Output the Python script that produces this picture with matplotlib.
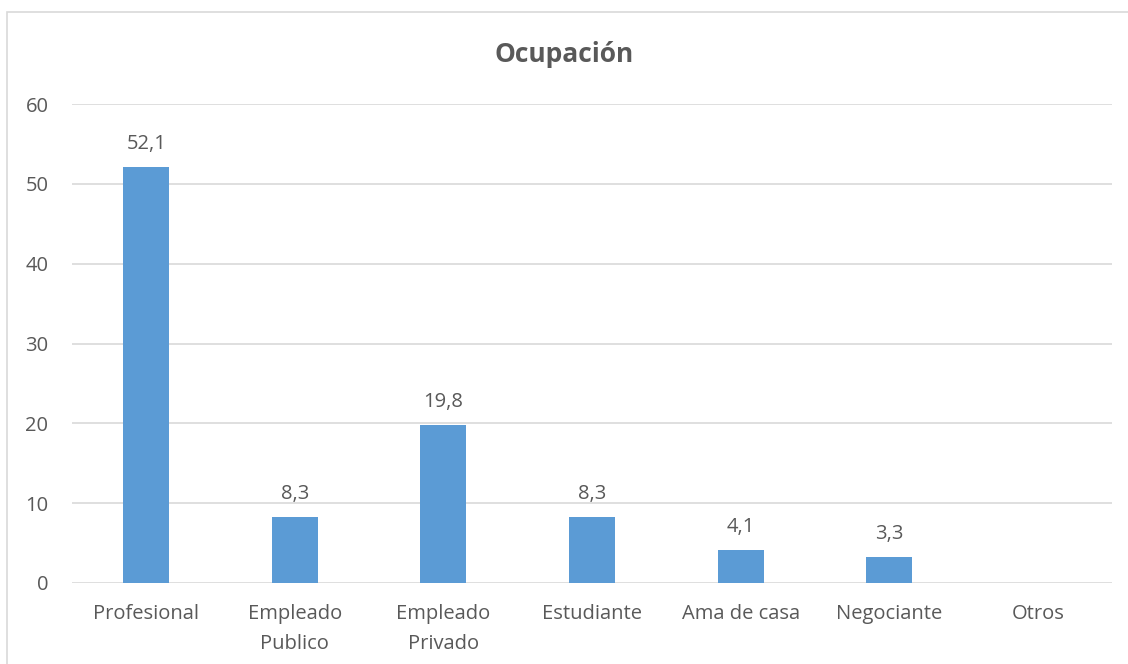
import matplotlib.pyplot as plt
from matplotlib.patches import Rectangle
import numpy as np

categories = ['Profesional', 'Empleado\nPublico', 'Empleado\nPrivado',
              'Estudiante', 'Ama de casa', 'Negociante', 'Otros']
values = [52.1, 8.3, 19.8, 8.3, 4.1, 3.3, 0]
y_ticks = [0, 10, 20, 30, 40, 50, 60]

BAR = '#5B9BD5'
TEXT = '#595959'
GRID = '#D9D9D9'

plt.rcParams['font.family'] = ['Open Sans', 'DejaVu Sans']

W, H = 1128, 664
fig = plt.figure(figsize=(W / 100, H / 100), dpi=100)

# chart frame
fig.patches.append(Rectangle((7 / W, -0.1), 1.2, 1 - 12 / H + 0.1,
                             transform=fig.transFigure, fill=False,
                             edgecolor=GRID, linewidth=1.2))

ax = fig.add_axes([72 / W, 1 - 583 / H, (1112 - 72) / W, (583 - 104) / H])
x = np.arange(len(categories))
ax.bar(x, values, width=0.31, color=BAR, zorder=3)

for xi, v in zip(x, values):
    if v > 0:
        ax.text(xi, v + 2.9, f'{v:.1f}'.replace('.', ','), ha='center',
                va='center', fontsize=14.5, color=TEXT)

ax.set_xlim(-0.5, len(categories) - 0.5)
ax.set_ylim(0, 60)
ax.set_yticks(y_ticks)
ax.set_xticks(x)
ax.set_xticklabels(categories, fontsize=14.5, color=TEXT, linespacing=1.7)
ax.tick_params(axis='y', labelsize=14.5, labelcolor=TEXT, length=0, pad=17)
ax.tick_params(axis='x', length=0, pad=15)
ax.grid(axis='y', color=GRID, linewidth=1.2, zorder=0)
for s in ax.spines.values():
    s.set_visible(False)

fig.text(0.5, 1 - 55 / H, 'Ocupación', ha='center', va='center',
         fontsize=19, fontweight='bold', color=TEXT)

fig.savefig('out.png', dpi=100)
